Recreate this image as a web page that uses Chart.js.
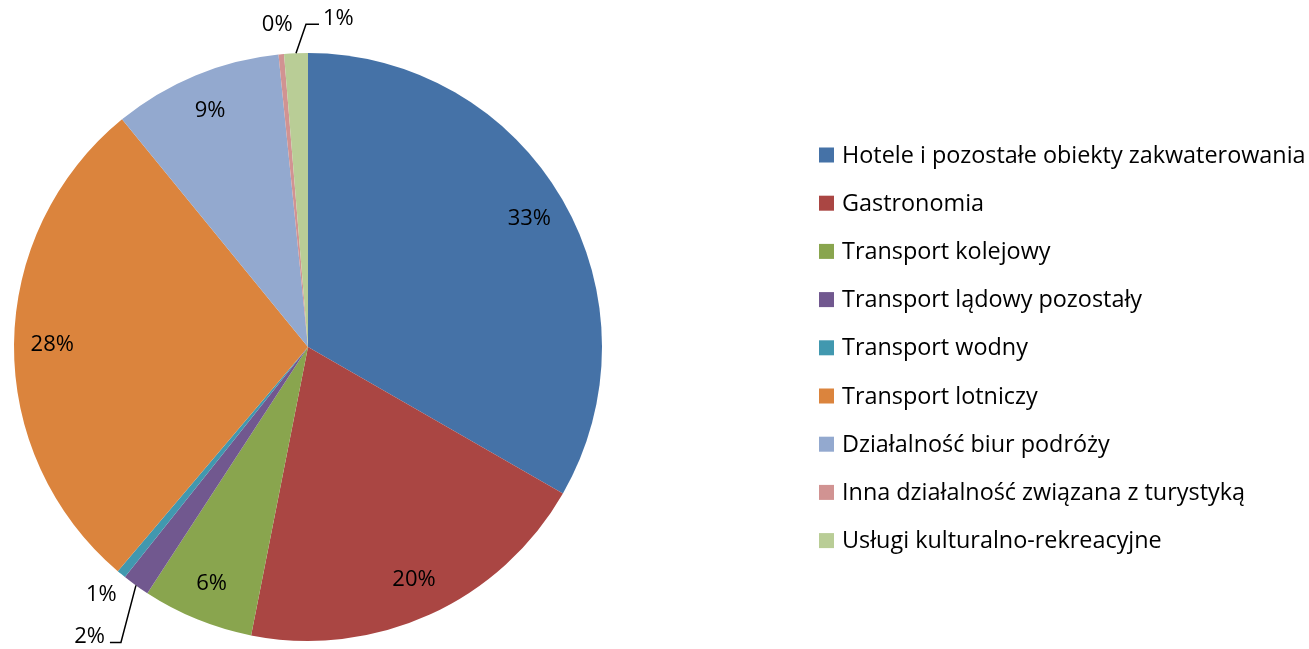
<!DOCTYPE html>
<html>
<head>
<meta charset="utf-8">
<script src="https://cdn.jsdelivr.net/npm/chart.js@4.4.1/dist/chart.umd.min.js"></script>
<style>
  html, body { margin: 0; padding: 0; background: #fff; }
  #wrap { width: 1309px; height: 649px; position: relative; }
</style>
</head>
<body>
<div id="wrap"><canvas id="chart-pie"></canvas></div>
<script>
'use strict';

/* ── Data ─────────────────────────────────────────────────── */
const categories = [
    'Hotele i pozostałe obiekty zakwaterowania',
    'Gastronomia',
    'Transport kolejowy',
    'Transport lądowy pozostały',
    'Transport wodny',
    'Transport lotniczy',
    'Działalność biur podróży',
    'Inna działalność związana z turystyką',
    'Usługi kulturalno-rekreacyjne'
];
const shares = [33.3, 19.8, 6.1, 1.5, 0.5, 27.9, 9.3, 0.3, 1.3];
const sliceColors = ['#4572A7', '#AA4643', '#89A54E', '#71588F', '#4198AF', '#DB843D', '#93A9CF', '#D19392', '#B9CD96'];

const FONT = '"Open Sans"';

/* ── Percent labels (inside / outside with leader lines) ───── */
const pieLabels = {
    id: 'pieLabels',
    afterDatasetsDraw(chart, args, opts) {
        const ctx = chart.ctx;
        const meta = chart.getDatasetMeta(0);
        const total = shares.reduce((a, b) => a + b, 0);
        ctx.save();
        ctx.font = `${opts.size}px ${FONT}`;
        ctx.fillStyle = '#000';
        ctx.strokeStyle = '#000';
        ctx.lineWidth = 1.5;
        meta.data.forEach((arc, i) => {
            const p = arc.getProps(['x', 'y', 'startAngle', 'endAngle', 'outerRadius'], true);
            const mid = (p.startAngle + p.endAngle) / 2;
            const txt = Math.round(shares[i] / total * 100) + '%';
            const out = opts.outside[i];
            if (!out) {
                const r = p.outerRadius * opts.inner;
                ctx.textAlign = 'center';
                ctx.textBaseline = 'middle';
                ctx.fillText(txt, p.x + Math.cos(mid) * r, p.y + Math.sin(mid) * r);
                return;
            }
            const rx = p.x + Math.cos(mid) * p.outerRadius;
            const ry = p.y + Math.sin(mid) * p.outerRadius;
            if (out.elbow) {
                ctx.beginPath();
                ctx.moveTo(rx, ry);
                ctx.lineTo(rx + out.elbow[0], ry + out.elbow[1]);
                ctx.lineTo(rx + out.end[0], ry + out.end[1]);
                ctx.stroke();
            }
            ctx.textAlign = out.align || 'center';
            ctx.textBaseline = 'middle';
            ctx.fillText(txt, rx + out.text[0], ry + out.text[1]);
        });
        ctx.restore();
    }
};

/* ── Legend drawn on the right ────────────────────────────── */
const sideLegend = {
    id: 'sideLegend',
    afterDraw(chart, args, opts) {
        const ctx = chart.ctx;
        ctx.save();
        ctx.font = `${opts.size}px ${FONT}`;
        ctx.textAlign = 'left';
        ctx.textBaseline = 'middle';
        categories.forEach((label, i) => {
            const y = opts.top + i * opts.step;
            ctx.fillStyle = sliceColors[i];
            ctx.fillRect(opts.left, y - 7.5, 15, 15);
            ctx.fillStyle = '#000';
            ctx.fillText(label, opts.left + 23, y + 1);
        });
        ctx.restore();
    }
};

const config = {
    type: 'pie',
    data: {
        labels: categories,
        datasets: [{
            data: shares,
            backgroundColor: sliceColors,
            borderWidth: 0
        }]
    },
    options: {
        responsive: true,
        maintainAspectRatio: false,
        animation: false,
        layout: { padding: { left: 14, right: 707, top: 53, bottom: 8 } },
        plugins: {
            legend: { display: false },
            tooltip: { enabled: false },
            pieLabels: {
                size: 22,
                inner: 0.87,
                outside: {
                    3: { elbow: [-15, 57], end: [-26, 57], text: [-31, 51], align: 'right' },
                    4: { text: [-20, 21] },
                    7: { text: [-4, -29] },
                    8: { elbow: [10, -29], end: [23, -29], text: [27, -35], align: 'left' }
                }
            },
            sideLegend: { size: 23.4, left: 819, top: 155, step: 48.2 }
        }
    },
    plugins: [pieLabels, sideLegend]
};

new Chart(document.getElementById('chart-pie'), config);
</script>
</body>
</html>
